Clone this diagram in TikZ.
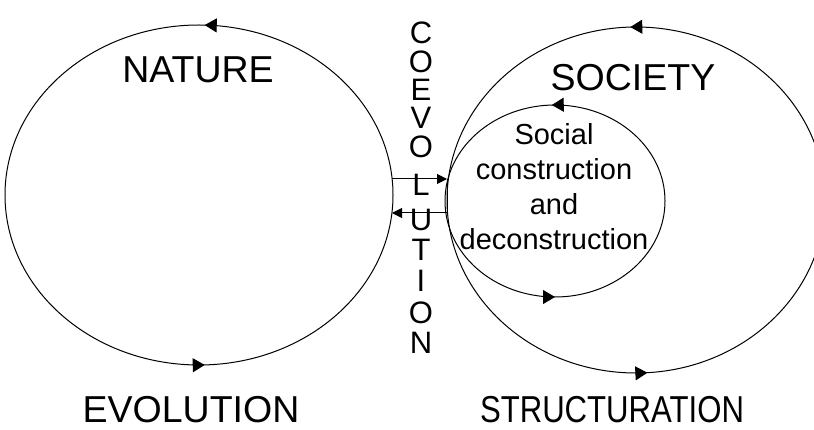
\documentclass[tikz,border=0pt]{standalone}
\usepackage{fontspec}
\setmainfont{Liberation Sans}
\usetikzlibrary{arrows.meta,decorations.markings}
\begin{document}
\begin{tikzpicture}[x=1pt,y=-1pt,
  % a closed cycle with two direction marks along it
  orbit/.style 2 args={line width=1pt, postaction={decorate},
    decoration={markings,
      mark=at position #1 with {\arrowreversed{Triangle[length=12pt,width=14pt]}},
      mark=at position #2 with {\arrowreversed{Triangle[length=12pt,width=14pt]}}}},
  link/.style={line width=1pt, -{Triangle[length=10pt,width=10pt]}},
  big/.style={font=\fontsize{37.5}{40}\selectfont},
  mid/.style={font=\fontsize{29}{35}\selectfont, align=center},
  letter/.style={font=\fontsize{31}{34}\selectfont, inner sep=0pt}]
\useasboundingbox (0,0) rectangle (814,430);
\clip (0,0) rectangle (814,430);
\fill[white] (0,0) rectangle (814,430);

% nature cycle
\draw[orbit={0.245}{0.755}] (199,195) ellipse [x radius=194, y radius=170];
% society cycle and the inner construction cycle
\draw[orbit={0.24}{0.745}] (636,200) ellipse [x radius=189, y radius=173];
\draw[orbit={0.25}{0.745}] (555,201) ellipse [x radius=110, y radius=96];

% labels
\node[big] (nature) at (198,70) {NATURE};
\node[big] (society) at (633,78) {SOCIETY};
\node[big] (evolution) at (191,410) {EVOLUTION};
\node[big] (structuration) at (612,410) {\scalebox{0.83}[1]{STRUCTURATION}};
\node[mid] (social) at (554,187) {Social\\construction\\and\\deconstruction};

% vertical word between the cycles
\foreach \ch/\yy [count=\i] in {C/33,O/62,E/90,V/118,O/147,L/185,U/220,T/250,I/281,O/313,N/343}
  \node[letter] (coev\i) at (421,\yy) {\ch};

% exchange between nature and society
\coordinate (natTop) at (392,179);
\coordinate (socTop) at (447,179);
\coordinate (socBot) at (447,213);
\coordinate (natBot) at (392,213);
\draw[link] (natTop) -- (socTop);
\draw[line width=1pt] (socTop) -- (socBot);
\draw[link] (socBot) -- (natBot);
\end{tikzpicture}
\end{document}
